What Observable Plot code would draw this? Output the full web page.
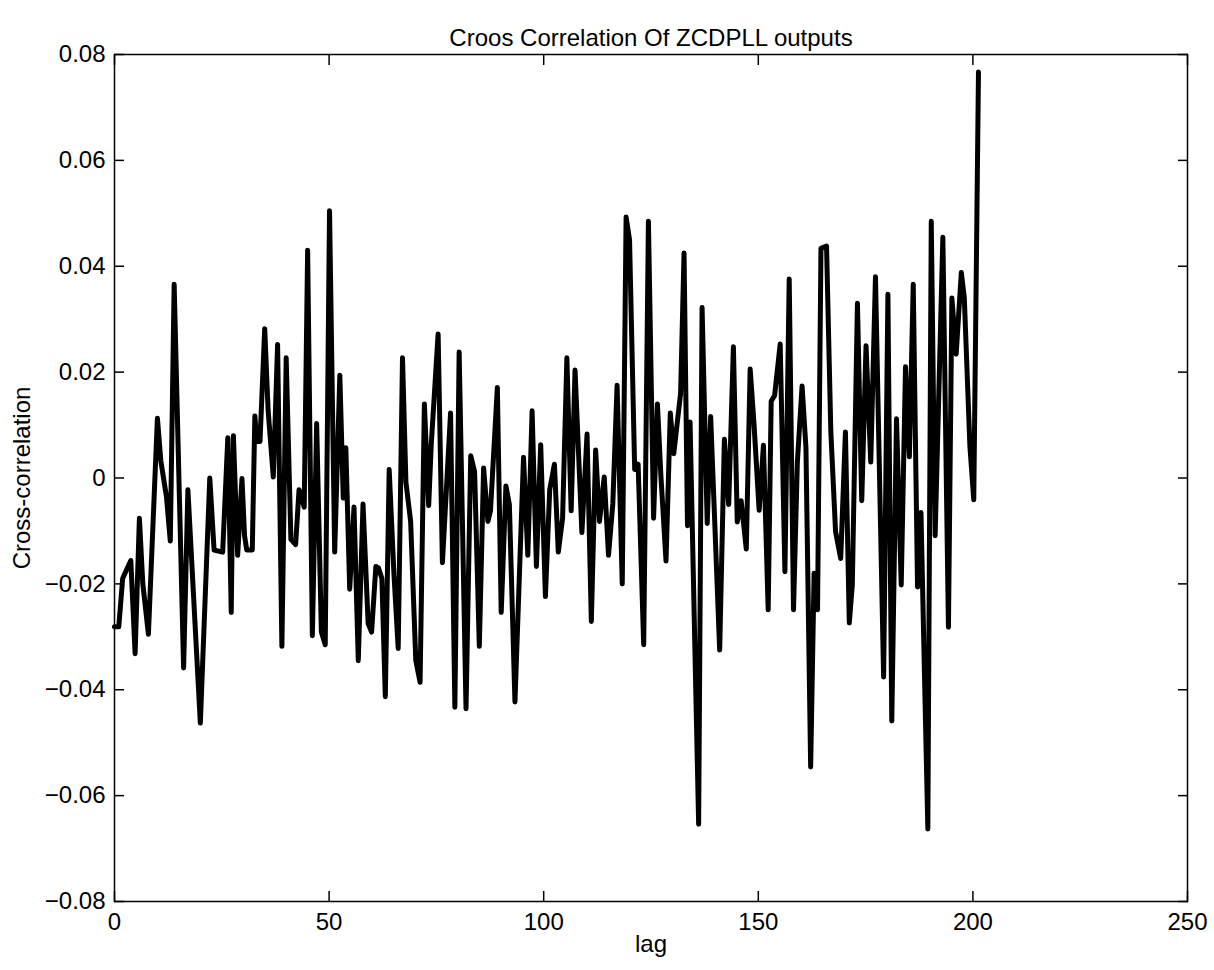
<!DOCTYPE html>
<html>
<head>
<meta charset="utf-8">
<script src="https://cdn.jsdelivr.net/npm/d3@7"></script>
<script src="https://cdn.jsdelivr.net/npm/@observablehq/plot@0.6"></script>
<style>
  html, body { margin: 0; padding: 0; background: #fff; }
  #chart svg { display: block; font-family: "Liberation Sans", Arial, Helvetica, sans-serif; }
</style>
</head>
<body>
<div id="chart"></div>
<script>
const titleText = "Croos Correlation Of ZCDPLL outputs";
const xLabel = "lag";
const yLabel = "Cross-correlation";

const xTicks = [0, 50, 100, 150, 200, 250];
const xTickLabels = ["0", "50", "100", "150", "200", "250"];
const yTicks = [-0.08, -0.06, -0.04, -0.02, 0, 0.02, 0.04, 0.06, 0.08];
const yTickLabels = ["\u22120.08", "\u22120.06", "\u22120.04", "\u22120.02", "0", "0.02", "0.04", "0.06", "0.08"];

const lags = [
  0, 1.0, 1.9, 2.6, 3.8, 4.8, 5.8, 6.6, 7.9, 10.0,
  10.8, 12.1, 13.0, 13.9, 16.1, 17.1, 20.0, 22.2, 23.2, 25.2,
  26.4, 27.2, 27.7, 28.7, 29.7, 30.3, 30.8, 32.1, 32.7, 33.2,
  33.9, 35.0, 35.8, 37.0, 38.0, 39.0, 40.0, 41.1, 42.2, 43.0,
  44.2, 45.0, 46.1, 47.1, 48.2, 49.1, 50.1, 51.3, 52.5, 53.3,
  53.9, 54.8, 55.8, 56.8, 57.9, 59.1, 59.9, 60.9, 61.5, 62.3,
  63.1, 64.0, 65.1, 66.1, 67.1, 67.9, 69.0, 70.2, 71.2, 72.2,
  73.2, 73.8, 75.4, 76.4, 78.3, 79.3, 80.3, 81.9, 83.0, 83.9,
  85.0, 86.0, 87.0, 87.6, 89.2, 90.1, 91.2, 92.0, 93.3, 95.3,
  96.3, 97.3, 98.3, 99.3, 100.4, 101.4, 102.5, 103.4, 104.4, 105.4,
  106.4, 107.3, 108.9, 110.1, 111.1, 112.1, 113.0, 114.1, 115.1, 116.1,
  117.1, 118.3, 119.2, 120.0, 121.2, 122.0, 123.3, 124.4, 125.6, 126.5,
  127.3, 128.5, 129.5, 130.3, 131.9, 132.7, 133.5, 134.1, 136.1, 136.9,
  138.1, 138.9, 141.0, 142.1, 143.1, 144.2, 145.1, 146.0, 147.2, 148.1,
  149.0, 150.2, 151.2, 152.3, 153.0, 153.8, 155.1, 156.2, 157.2, 158.2,
  159.1, 160.2, 161.1, 162.2, 163.0, 163.8, 164.6, 165.9, 166.9, 168.0,
  169.2, 170.3, 171.2, 171.9, 173.1, 174.1, 175.1, 176.2, 177.3, 179.2,
  180.2, 181.1, 182.2, 183.3, 184.3, 185.2, 186.1, 187.1, 187.9, 189.5,
  190.3, 191.2, 193.0, 194.3, 195.1, 196.1, 197.3, 198.0, 199.3, 200.2,
  201.3
];

const values = [
  -0.0281, -0.0281, -0.0190, -0.0177, -0.0156, -0.0332, -0.0076, -0.0200, -0.0295, 0.0113,
  0.0032, -0.0035, -0.0119, 0.0366, -0.0359, -0.0022, -0.0463, 0.0000, -0.0136, -0.0140,
  0.0076, -0.0254, 0.0080, -0.0146, -0.0001, -0.0109, -0.0136, -0.0136, 0.0117, 0.0069,
  0.0069, 0.0282, 0.0127, 0.0002, 0.0252, -0.0318, 0.0227, -0.0116, -0.0126, -0.0022,
  -0.0055, 0.0430, -0.0298, 0.0103, -0.0291, -0.0315, 0.0505, -0.0140, 0.0194, -0.0038,
  0.0057, -0.0210, -0.0055, -0.0345, -0.0049, -0.0275, -0.0291, -0.0167, -0.0170, -0.0190,
  -0.0413, 0.0016, -0.0180, -0.0322, 0.0227, -0.0008, -0.0082, -0.0345, -0.0386, 0.0140,
  -0.0052, 0.0063, 0.0272, -0.0160, 0.0123, -0.0433, 0.0238, -0.0436, 0.0042, 0.0012,
  -0.0318, 0.0019, -0.0082, -0.0062, 0.0171, -0.0254, -0.0015, -0.0050, -0.0423, 0.0039,
  -0.0146, 0.0127, -0.0167, 0.0063, -0.0224, -0.0022, 0.0026, -0.0140, -0.0076, 0.0227,
  -0.0062, 0.0204, -0.0103, 0.0083, -0.0271, 0.0053, -0.0082, 0.0002, -0.0146, -0.0049,
  0.0175, -0.0200, 0.0493, 0.0450, 0.0016, 0.0026, -0.0315, 0.0485, -0.0076, 0.0140,
  0.0005, -0.0157, 0.0123, 0.0046, 0.0160, 0.0425, -0.0090, 0.0106, -0.0654, 0.0322,
  -0.0086, 0.0116, -0.0325, 0.0073, -0.0050, 0.0248, -0.0083, -0.0043, -0.0134, 0.0206,
  0.0102, -0.0061, 0.0062, -0.0249, 0.0145, 0.0156, 0.0253, -0.0177, 0.0376, -0.0249,
  0.0030, 0.0174, 0.0058, -0.0546, -0.0180, -0.0249, 0.0434, 0.0438, 0.0087, -0.0101,
  -0.0152, 0.0087, -0.0274, -0.0202, 0.0330, -0.0043, 0.0250, 0.0030, 0.0380, -0.0376,
  0.0347, -0.0459, 0.0112, -0.0202, 0.0210, 0.0040, 0.0366, -0.0206, -0.0065, -0.0663,
  0.0485, -0.0109, 0.0455, -0.0282, 0.0340, 0.0234, 0.0388, 0.0340, 0.0060, -0.0041,
  0.0767
];

const data = lags.map((lag, i) => ({lag, value: values[i]}));
const xFmt = d => xTickLabels[xTicks.indexOf(d)];
const yFmt = d => yTickLabels[yTicks.findIndex(t => Math.abs(t - d) < 1e-9)];
const blank = () => "";

const chart = Plot.plot({
  width: 1214,
  height: 970,
  marginLeft: 114,
  marginRight: 27,
  marginTop: 54,
  marginBottom: 69,
  style: {fontFamily: '"Liberation Sans", Arial, Helvetica, sans-serif', background: "#fff", color: "#000"},
  x: {domain: [0, 250]},
  y: {domain: [-0.08, 0.08]},
  marks: [
    Plot.line(data, {x: "lag", y: "value", stroke: "#000", strokeWidth: 5, strokeLinejoin: "round", strokeLinecap: "round"}),
    Plot.frame({stroke: "#000", strokeWidth: 1.5}),
    // inward tick marks on all four sides
    Plot.axisX(xTicks, {anchor: "bottom", tickSize: 10, dy: -10, tickFormat: blank, label: null, strokeWidth: 1.5}),
    Plot.axisX(xTicks, {anchor: "top", tickSize: 10, dy: 10, tickFormat: blank, label: null, strokeWidth: 1.5}),
    Plot.axisY(yTicks, {anchor: "left", tickSize: 10, dx: 10, tickFormat: blank, label: null, strokeWidth: 1.5}),
    Plot.axisY(yTicks, {anchor: "right", tickSize: 10, dx: -10, tickFormat: blank, label: null, strokeWidth: 1.5}),
    // tick labels
    Plot.axisX(xTicks, {anchor: "bottom", tickSize: 0, tickPadding: 11, tickFormat: xFmt, label: null, fontSize: 24}),
    Plot.axisY(yTicks, {anchor: "left", tickSize: 0, tickPadding: 9, tickFormat: yFmt, label: null, fontSize: 24}),
    // titles
    Plot.text([titleText], {frameAnchor: "top", dy: -26, fontSize: 24, fill: "#000"}),
    Plot.text([xLabel], {frameAnchor: "bottom", dy: 50, fontSize: 24, fill: "#000"}),
    Plot.text([yLabel], {frameAnchor: "left", dx: -92, rotate: -90, textAnchor: "middle", fontSize: 24, fill: "#000"})
  ]
});
document.getElementById("chart").appendChild(chart);
</script>
</body>
</html>
